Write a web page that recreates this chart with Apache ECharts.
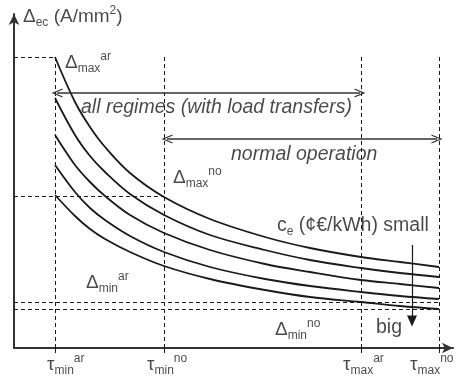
<!DOCTYPE html>
<html>
<head>
<meta charset="utf-8">
<script src="https://cdn.jsdelivr.net/npm/echarts@6/dist/echarts.min.js"></script>
<style>
  html, body { margin: 0; padding: 0; background: #fff; }
  #main { width: 459px; height: 378px; }
</style>
</head>
<body>
<div id="main"></div>
<script>
// tau (x) sample points, arbitrary units
var tau = [41, 61, 76, 91, 116, 150, 196, 251, 296, 347, 386, 425];
// Delta_ec curves, from small c_e (top) to big c_e (bottom)
var curve1 = [291, 246, 221, 201, 175, 151, 129, 111, 100, 91, 86, 81];
var curve2 = [250, 213, 192, 176, 154, 133, 113, 98, 88, 80, 75, 71];
var curve3 = [213, 183, 166, 152, 133, 115, 98, 84, 76, 68, 64, 60];
var curve4 = [183, 156, 140, 128, 112, 96, 81, 69, 62, 56, 52, 49];
var curve5 = [153, 132, 119, 109, 96, 82, 69, 58, 51, 46, 42, 39];

// tau limits: min ar, min no, max ar, max no
var tauTicks = [41, 150, 347, 425];
var tauTickNames = [['min', 'ar'], ['min', 'no'], ['max', 'ar'], ['max', 'no']];
// Delta limits
var deltaMaxAr = 291, deltaMaxNo = 152, deltaMinAr = 46, deltaMinNo = 39;

var chart = echarts.init(document.getElementById('main'));
var FONT = '"Liberation Sans", Arial, sans-serif';
var INK = '#1a1a1a';

function pairs(ys) {
    return tau.map(function (x, i) { return [x, ys[i]]; });
}

var rich = {
    m: { fontSize: 19, lineHeight: 24, color: INK, fontFamily: FONT },
    sub: { fontSize: 12, lineHeight: 12, verticalAlign: 'bottom', color: INK, fontFamily: FONT },
    sup: { fontSize: 12, lineHeight: 12, verticalAlign: 'top', color: INK, fontFamily: FONT },
    big: { fontSize: 19.5, lineHeight: 24, color: INK, fontFamily: FONT },
    it: { fontSize: 19.5, lineHeight: 24, color: INK, fontFamily: FONT, fontStyle: 'italic' }
};

function delta(sub, sup) { return '{m|Δ}{sub|' + sub + '}{sup|' + sup + '}'; }

// text notes, placed in data units
var notes = [
    { value: [9, 331], text: '{m|Δ}{sub|ec}{m| (A/mm}{sup|2}{m|)}' },
    { value: [51, 285], text: delta('max', 'ar') },
    { value: [67, 240], text: '{it|all regimes (with load transfers)}' },
    { value: [217, 193], text: '{it|normal operation}' },
    { value: [159, 170], text: delta('max', 'no') },
    { value: [263, 122], text: '{big|c}{sub|e}{big| (¢€/kWh) small}' },
    { value: [72, 65], text: delta('min', 'ar') },
    { value: [261, 18], text: delta('min', 'no') },
    { value: [362, 20], text: '{big|big}' },
    { value: [33, -17], text: '{m|τ}{sub|min}{sup|ar}' },
    { value: [133, -17], text: '{m|τ}{sub|min}{sup|no}' },
    { value: [329, -17], text: '{m|τ}{sub|max}{sup|ar}' },
    { value: [396, -17], text: '{m|τ}{sub|max}{sup|no}' }
];

var chevron = 'path://M0,12 L6,0 L12,12 L10.4,12 L6,3.2 L1.6,12 Z';
var dash = { type: [4, 3], width: 1, color: INK };

var guideLines = [];
tauTicks.forEach(function (t) {
    guideLines.push([{ coord: [t, 0], lineStyle: dash }, { coord: [t, deltaMaxAr] }]);
});
guideLines.push([{ coord: [0, deltaMaxAr], lineStyle: dash }, { coord: [tauTicks[0], deltaMaxAr] }]);
guideLines.push([{ coord: [0, deltaMaxNo], lineStyle: dash }, { coord: [tauTicks[1], deltaMaxNo] }]);
guideLines.push([{ coord: [0, deltaMinAr], lineStyle: dash }, { coord: [tauTicks[3], deltaMinAr] }]);
guideLines.push([{ coord: [0, deltaMinNo], lineStyle: dash }, { coord: [tauTicks[3], deltaMinNo] }]);

var curveStyle = { color: INK, width: 1.8 };
var series = [curve1, curve2, curve3, curve4, curve5].map(function (c) {
    return {
        type: 'line', data: pairs(c), smooth: 0.35, showSymbol: false,
        lineStyle: curveStyle, itemStyle: { color: INK }, silent: true
    };
});

series[0].markLine = {
    silent: true, symbol: 'none', label: { show: false },
    data: guideLines
};
series[1].markLine = {
    silent: true, label: { show: false },
    data: [
        [{ coord: [43, 255], symbol: chevron, symbolSize: [9, 11], lineStyle: { type: 'solid', color: '#333', width: 1.5 } },
         { coord: [346, 255], symbol: chevron, symbolSize: [9, 11] }],
        [{ coord: [153, 209], symbol: chevron, symbolSize: [9, 11], lineStyle: { type: 'solid', color: '#333', width: 1.5 } },
         { coord: [423, 209], symbol: chevron, symbolSize: [9, 11] }],
        [{ coord: [398, 103], symbol: 'none', lineStyle: { type: 'solid', color: INK, width: 1.2 } },
         { coord: [398, 27], symbol: 'triangle', symbolSize: [10, 11] }]
    ]
};

series.push({
    type: 'scatter', symbolSize: 0, clip: false, silent: true,
    data: notes.map(function (n) { return { value: n.value, text: n.text }; }),
    label: {
        show: true, position: [0, 0], align: 'left', verticalAlign: 'middle',
        formatter: function (p) { return p.data.text; },
        rich: rich
    }
});

var option = {
    animation: false,
    backgroundColor: '#fff',
    grid: { left: 14, right: 6, top: 14, bottom: 30 },
    xAxis: {
        type: 'value', min: 0, max: 439,
        axisLine: { show: true, symbol: ['none', 'arrow'], symbolSize: [8, 11], lineStyle: { color: '#333', width: 2 } },
        axisTick: { show: true, customValues: tauTicks, length: 5, lineStyle: { color: INK, width: 1 } },
        axisLabel: { show: false },
        splitLine: { show: false }
    },
    yAxis: {
        type: 'value', min: 0, max: 334,
        axisLine: { show: true, symbol: ['none', 'arrow'], symbolSize: [8, 11], lineStyle: { color: '#333', width: 2 } },
        axisTick: { show: false },
        axisLabel: { show: false },
        splitLine: { show: false }
    },
    series: series
};

chart.setOption(option);
</script>
</body>
</html>
